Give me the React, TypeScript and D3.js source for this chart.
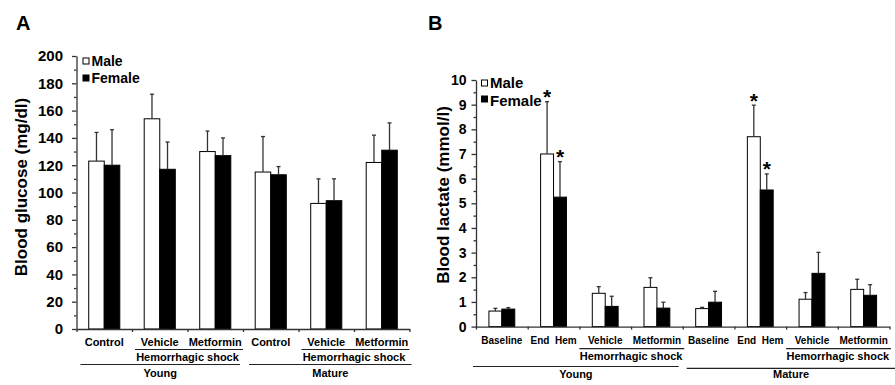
import { useRef, useEffect } from "react";
import * as d3 from "d3";

const FONT = "'Liberation Sans', Arial, Helvetica, sans-serif";

// Panel A: blood glucose (mg/dl)
const glucoseGroups = ["Control", "Vehicle", "Metformin", "Control", "Vehicle", "Metformin"];
const glucoseMale = [123, 154, 130, 115, 92, 122];
const glucoseMaleErr = [21, 18, 15, 26, 18, 20];
const glucoseFemale = [120, 117, 127, 113, 94, 131];
const glucoseFemaleErr = [26, 20, 13, 6, 16, 20];
const glucoseTicks = [0, 20, 40, 60, 80, 100, 120, 140, 160, 180, 200];
const glucoseMinor = [10, 30, 50, 70, 90, 110, 130, 150, 170, 190];
const glucoseShock = [[1, 2], [4, 5]];
const glucoseAges = [{ label: "Young", span: [0, 2] }, { label: "Mature", span: [3, 5] }];

// Panel B: blood lactate (mmol/l)
const lactateGroups = ["Baseline", "End  Hem", "Vehicle", "Metformin", "Baseline", "End  Hem", "Vehicle", "Metformin"];
const lactateMale = [0.63, 7.0, 1.35, 1.59, 0.73, 7.7, 1.11, 1.51];
const lactateMaleErr = [0.11, 2.12, 0.27, 0.39, 0.05, 1.28, 0.27, 0.41];
const lactateFemale = [0.71, 5.25, 0.82, 0.75, 0.99, 5.54, 2.16, 1.27];
const lactateFemaleErr = [0.06, 1.44, 0.41, 0.24, 0.44, 0.65, 0.85, 0.43];
const lactateStars = [1, 5];
const lactateTicks = [0, 1, 2, 3, 4, 5, 6, 7, 8, 9, 10];
const lactateMinor = [0.5, 1.5, 2.5, 3.5, 4.5, 5.5, 6.5, 7.5, 8.5, 9.5];
const lactateShock = [[2, 3], [6, 7]];
const lactateAges = [{ label: "Young", span: [0, 3] }, { label: "Mature", span: [4, 7] }];

const panels = [
  {
    letter: "A", letterX: 16,
    groups: glucoseGroups, male: glucoseMale, maleErr: glucoseMaleErr,
    female: glucoseFemale, femaleErr: glucoseFemaleErr, stars: [] as number[],
    ticks: glucoseTicks, minor: glucoseMinor, yMax: 200,
    shock: glucoseShock, ages: glucoseAges,
    title: "Blood glucose (mg/dl)", titleX: 21, titleY: 187,
    left: 76.5, right: 409.5, top: 56, bottom: 329, barFrac: 0.28,
    tickFont: 15, tickPad: 9, catFont: 11,
    catY: 346, shockLineY: 349.5, shockY: 361, ageLineY: [364.5, 364.5], ageY: 377,
    shockInset: [3, 0], ageInset: [[4, -3], [6, 2]],
    legendX: 83, legendY: [58, 75], legendFont: 14, legendBase: [66, 83],
  },
  {
    letter: "B", letterX: 428,
    groups: lactateGroups, male: lactateMale, maleErr: lactateMaleErr,
    female: lactateFemale, femaleErr: lactateFemaleErr, stars: lactateStars,
    ticks: lactateTicks, minor: lactateMinor, yMax: 10,
    shock: lactateShock, ages: lactateAges,
    title: "Blood lactate (mmol/l)", titleX: 443, titleY: 195,
    left: 476, right: 889.5, top: 80, bottom: 326.6, barFrac: 0.25,
    tickFont: 14, tickPad: 5, catFont: 10,
    catY: 343.5, shockLineY: 348.7, shockY: 359.5, ageLineY: [366.5, 368.3], ageY: 377.5,
    shockInset: [0, 1.5], ageInset: [[-3, -4], [4, 6]],
    legendX: 481.5, legendY: [80, 96], legendFont: 15, legendBase: [88, 105.5],
  },
];

type Panel = typeof panels[number];

function drawPanel(g: d3.Selection<SVGGElement, unknown, null, undefined>, p: Panel) {
  g.selectAll("*").remove();
  const n = p.groups.length;
  const x = d3.scaleBand<number>().domain(d3.range(n)).range([p.left, p.right]);
  const bw = x.bandwidth();
  const barW = bw * p.barFrac;
  const y = d3.scaleLinear().domain([0, p.yMax]).range([p.bottom, p.top]);
  const xb = d3.scaleLinear().domain([0, n]).range([p.left, p.right]);

  // panel letter
  g.append("text")
    .attr("x", p.letterX).attr("y", 29.5)
    .style("font-size", "20px").style("font-weight", "bold")
    .text(p.letter);

  // bars
  const sexes = [
    { vals: p.male, errs: p.maleErr, fill: "#fff", dx: -barW, stars: p.stars },
    { vals: p.female, errs: p.femaleErr, fill: "#000", dx: 0, stars: p.stars },
  ];
  sexes.forEach(s => {
    const bars = g.append("g");
    bars.selectAll("rect")
      .data(s.vals)
      .join("rect")
      .attr("x", (_, i) => x(i)! + bw / 2 + s.dx)
      .attr("y", d => y(d))
      .attr("width", barW)
      .attr("height", d => y(0) - y(d))
      .attr("fill", s.fill)
      .attr("stroke", "#000")
      .attr("stroke-width", 1);

    const cx = (i: number) => x(i)! + bw / 2 + s.dx + barW / 2;
    bars.selectAll(".err")
      .data(s.vals)
      .join("line")
      .attr("class", "err")
      .attr("x1", (_, i) => cx(i)).attr("x2", (_, i) => cx(i))
      .attr("y1", d => y(d)).attr("y2", (d, i) => y(d + s.errs[i]))
      .attr("stroke", "#333").attr("stroke-width", 1.3);
    bars.selectAll(".cap")
      .data(s.vals)
      .join("line")
      .attr("class", "cap")
      .attr("x1", (_, i) => cx(i) - 2).attr("x2", (_, i) => cx(i) + 2)
      .attr("y1", (d, i) => y(d + s.errs[i])).attr("y2", (d, i) => y(d + s.errs[i]))
      .attr("stroke", "#333").attr("stroke-width", 1.3);
    bars.selectAll(".star")
      .data(s.stars)
      .join("text")
      .attr("class", "star")
      .attr("x", i => cx(i))
      .attr("y", i => y(s.vals[i] + s.errs[i]) + 2.5)
      .attr("text-anchor", "middle")
      .style("font-size", "21px").style("font-weight", "bold")
      .text("*");
  });

  // y axis
  const yAxis = d3.axisLeft(y).tickValues(p.ticks).tickSize(4.5).tickSizeOuter(0)
    .tickPadding(p.tickPad).tickFormat(d3.format("d"));
  const ya = g.append("g").attr("transform", `translate(${p.left},0)`).call(yAxis);
  ya.selectAll("text")
    .style("font-family", FONT).style("font-size", `${p.tickFont}px`).style("font-weight", "bold")
    .attr("fill", "#000");
  ya.selectAll("line,path").attr("stroke", "#333").attr("stroke-width", 1.3);
  const yMinor = d3.axisLeft(y).tickValues(p.minor).tickSize(2.5).tickFormat(() => "");
  const ym = g.append("g").attr("transform", `translate(${p.left},0)`).call(yMinor);
  ym.select(".domain").remove();
  ym.selectAll("line").attr("stroke", "#333").attr("stroke-width", 1.3);

  // x axis
  const xAxis = d3.axisBottom(xb).tickValues(d3.range(n + 1)).tickSize(3).tickSizeOuter(0).tickFormat(() => "");
  const xa = g.append("g").attr("transform", `translate(0,${p.bottom})`).call(xAxis);
  xa.selectAll("line,path").attr("stroke", "#333").attr("stroke-width", 1.3);

  // category labels
  g.append("g").selectAll("text")
    .data(p.groups)
    .join("text")
    .attr("x", (_, i) => x(i)! + bw / 2)
    .attr("y", p.catY)
    .attr("text-anchor", "middle")
    .style("font-size", `${p.catFont}px`).style("font-weight", "bold")
    .style("white-space", "pre")
    .text(d => d);

  // hemorrhagic shock brackets
  p.shock.forEach(([a, b]) => {
    const x1 = xb(a) + p.shockInset[0];
    const x2 = xb(b + 1) + p.shockInset[1];
    g.append("line")
      .attr("x1", x1).attr("x2", x2).attr("y1", p.shockLineY).attr("y2", p.shockLineY)
      .attr("stroke", "#222").attr("stroke-width", 1.2);
    g.append("text")
      .attr("x", (xb(a) + xb(b + 1)) / 2).attr("y", p.shockY)
      .attr("text-anchor", "middle")
      .style("font-size", "11px").style("font-weight", "bold")
      .text("Hemorrhagic shock");
  });

  // age brackets
  p.ages.forEach((age, k) => {
    const x1 = xb(age.span[0]) + p.ageInset[k][0];
    const x2 = xb(age.span[1] + 1) + p.ageInset[k][1];
    g.append("line")
      .attr("x1", x1).attr("x2", x2).attr("y1", p.ageLineY[k]).attr("y2", p.ageLineY[k])
      .attr("stroke", "#222").attr("stroke-width", 1.2);
    g.append("text")
      .attr("x", (x1 + x2) / 2).attr("y", p.ageY)
      .attr("text-anchor", "middle")
      .style("font-size", "11px").style("font-weight", "bold")
      .text(age.label);
  });

  // y title
  g.append("text")
    .attr("transform", `translate(${p.titleX},${p.titleY}) rotate(-90)`)
    .attr("text-anchor", "middle")
    .attr("dy", "0.35em")
    .style("font-size", "17px").style("font-weight", "bold")
    .text(p.title);

  // legend
  const legend = g.append("g");
  [{ label: "Male", fill: "#fff" }, { label: "Female", fill: "#000" }].forEach((d, i) => {
    legend.append("rect")
      .attr("x", p.legendX).attr("y", p.legendY[i])
      .attr("width", 6).attr("height", 6)
      .attr("fill", d.fill).attr("stroke", "#000").attr("stroke-width", 1);
    legend.append("text")
      .attr("x", p.legendX + 8.5).attr("y", p.legendBase[i])
      .style("font-size", `${p.legendFont}px`).style("font-weight", "bold")
      .text(d.label);
  });
}

export default function App() {
  const svgRef = useRef<SVGSVGElement>(null);

  useEffect(() => {
    const svg = d3.select(svgRef.current);
    panels.forEach((p, i) => {
      const g = svg.select<SVGGElement>(`.panel-${i}`) as unknown as d3.Selection<SVGGElement, unknown, null, undefined>;
      drawPanel(g, p);
    });
  }, []);

  return (
    <svg
      ref={svgRef}
      width={895}
      height={385}
      style={{ position: "absolute", left: 0, top: 0, background: "#fff", fontFamily: FONT }}
    >
      <rect width={895} height={385} fill="#fff" />
      <g className="panel-0" />
      <g className="panel-1" />
    </svg>
  );
}
